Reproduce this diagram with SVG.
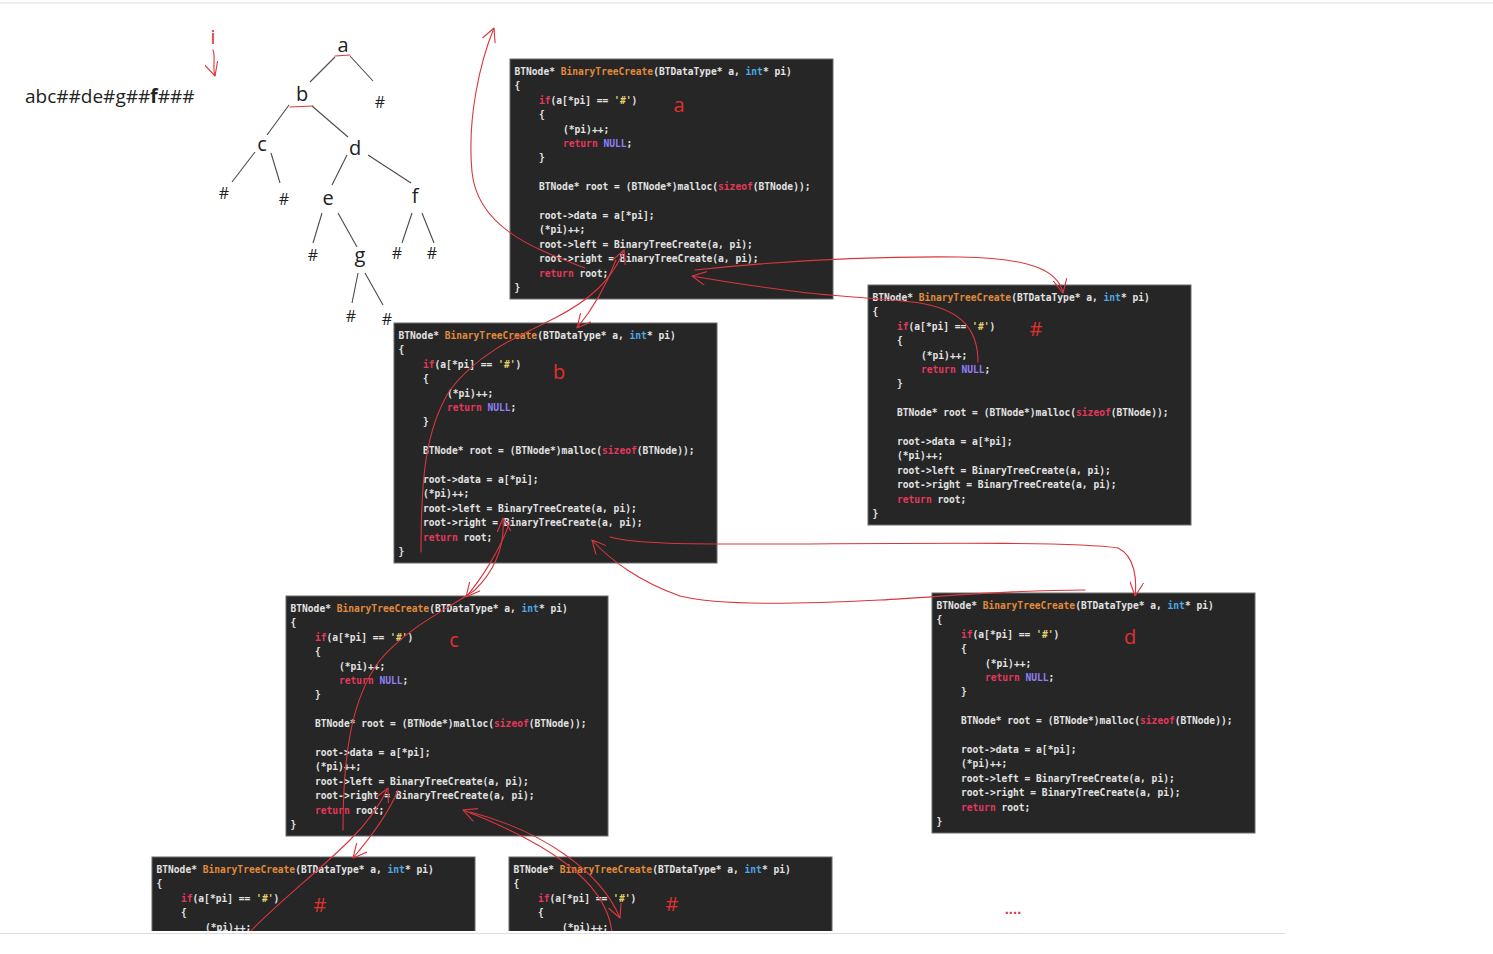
<svg xmlns="http://www.w3.org/2000/svg" width="1493" height="954" viewBox="0 0 1493 954">
<style>
.code{font-family:"DejaVu Sans Mono","Liberation Mono",monospace;font-size:9.6px;font-weight:bold;fill:#e2e2e2}
.fn{fill:#e08a3c}.kw{fill:#e2385c}.ty{fill:#4fa6e0}.ch{fill:#e0cf6a}.nl{fill:#9180f5}
.blk{fill:#262626;stroke:#6a6a6a;stroke-width:1}
.lbl{font-family:"Open Sans","Liberation Sans",sans-serif;font-size:20px;fill:#e0302f;text-anchor:middle}
.red{fill:none;stroke:#d9363e;stroke-width:1.1;stroke-linecap:round}
.tl{stroke:#4a4a4a;stroke-width:1.1}
.tn{font-family:"Open Sans","Liberation Sans",sans-serif;font-size:20px;fill:#222;text-anchor:middle}
.th{font-family:"Open Sans","Liberation Sans",sans-serif;font-size:16px;fill:#222;text-anchor:middle}
</style>
<defs>
<marker id="ah" viewBox="0 0 10 10" refX="10" refY="5" markerWidth="14" markerHeight="14" markerUnits="userSpaceOnUse" orient="auto">
<path d="M0,0 L10,5 L0,10" fill="none" stroke="#d9363e" stroke-width="0.8"/>
</marker>
<clipPath id="cut"><rect x="0" y="0" width="1493" height="931"/></clipPath>
</defs>
<rect x="0" y="0" width="1493" height="954" fill="#ffffff"/>
<line x1="0" y1="3" x2="1493" y2="3" stroke="#dcdcdc" stroke-width="1"/>
<line x1="0" y1="933.5" x2="1285" y2="933.5" stroke="#dcdcdc" stroke-width="1"/>

<g id="sequence">
<text x="25" y="103" font-family="Open Sans, Liberation Sans, sans-serif" font-size="19" fill="#222">abc##de#g##<tspan font-weight="bold">f</tspan>###</text>
<text x="213" y="44" class="lbl" font-size="18">i</text>
<path class="red" d="M213,50 C216,58 212,66 215,76" marker-end="url(#ah)"/>
</g>

<g id="tree">
<line class="tl" x1="335" y1="57" x2="310" y2="82"/>
<line class="tl" x1="350" y1="56" x2="373" y2="81"/>
<line class="tl" x1="289" y1="105" x2="267" y2="135"/>
<line class="tl" x1="312" y1="106" x2="348" y2="137"/>
<line class="tl" x1="255" y1="152" x2="232" y2="182"/>
<line class="tl" x1="271" y1="153" x2="280" y2="183"/>
<line class="tl" x1="347" y1="155" x2="332" y2="185"/>
<line class="tl" x1="368" y1="155" x2="411" y2="183"/>
<line class="tl" x1="322" y1="213" x2="313" y2="243"/>
<line class="tl" x1="338" y1="213" x2="357" y2="247"/>
<line class="tl" x1="412" y1="213" x2="402" y2="243"/>
<line class="tl" x1="422" y1="213" x2="434" y2="243"/>
<line class="tl" x1="358" y1="273" x2="352" y2="303"/>
<line class="tl" x1="365" y1="273" x2="383" y2="305"/>
<path class="red" d="M335,56 L350,55"/>
<path class="red" d="M290,107 L313,106"/>
<text class="tn" x="343" y="52">a</text>
<text class="tn" x="302" y="101">b</text>
<text class="th" x="380" y="108">#</text>
<text class="tn" x="262" y="151">c</text>
<text class="tn" x="355" y="155">d</text>
<text class="th" x="224" y="199">#</text>
<text class="th" x="284" y="205">#</text>
<text class="tn" x="328" y="205">e</text>
<text class="tn" x="415" y="203">f</text>
<text class="th" x="313" y="261">#</text>
<text class="tn" x="360" y="262">g</text>
<text class="th" x="397" y="259">#</text>
<text class="th" x="432" y="259">#</text>
<text class="th" x="351" y="322">#</text>
<text class="th" x="387" y="325">#</text>
</g>

<g id="block-a">
<rect class="blk" x="510" y="59" width="323" height="240"/>
<text class="code" x="514.5" y="75">BTNode* <tspan class="fn">BinaryTreeCreate</tspan>(BTDataType* a, <tspan class="ty">int</tspan>* pi)</text>
<text class="code" x="514.5" y="89.4">{</text>
<text class="code" x="539" y="103.8"><tspan class="kw">if</tspan>(a[*pi] == <tspan class="ch">'#'</tspan>)</text>
<text class="code" x="539" y="118.2">{</text>
<text class="code" x="563" y="132.6">(*pi)++;</text>
<text class="code" x="563" y="147"><tspan class="kw">return</tspan> <tspan class="nl">NULL</tspan>;</text>
<text class="code" x="539" y="161.4">}</text>
<text class="code" x="539" y="190.2">BTNode* root = (BTNode*)malloc(<tspan class="kw">sizeof</tspan>(BTNode));</text>
<text class="code" x="539" y="219">root-&gt;data = a[*pi];</text>
<text class="code" x="539" y="233.4">(*pi)++;</text>
<text class="code" x="539" y="247.8">root-&gt;left = BinaryTreeCreate(a, pi);</text>
<text class="code" x="539" y="262.2">root-&gt;right = BinaryTreeCreate(a, pi);</text>
<text class="code" x="539" y="276.6"><tspan class="kw">return</tspan> root;</text>
<text class="code" x="514.5" y="291">}</text>
<text class="lbl" x="679" y="112">a</text>
</g>

<g id="block-hash1">
<rect class="blk" x="868" y="285" width="323" height="240"/>
<text class="code" x="872.5" y="301">BTNode* <tspan class="fn">BinaryTreeCreate</tspan>(BTDataType* a, <tspan class="ty">int</tspan>* pi)</text>
<text class="code" x="872.5" y="315.4">{</text>
<text class="code" x="897" y="329.8"><tspan class="kw">if</tspan>(a[*pi] == <tspan class="ch">'#'</tspan>)</text>
<text class="code" x="897" y="344.2">{</text>
<text class="code" x="921" y="358.6">(*pi)++;</text>
<text class="code" x="921" y="373"><tspan class="kw">return</tspan> <tspan class="nl">NULL</tspan>;</text>
<text class="code" x="897" y="387.4">}</text>
<text class="code" x="897" y="416.2">BTNode* root = (BTNode*)malloc(<tspan class="kw">sizeof</tspan>(BTNode));</text>
<text class="code" x="897" y="445">root-&gt;data = a[*pi];</text>
<text class="code" x="897" y="459.4">(*pi)++;</text>
<text class="code" x="897" y="473.8">root-&gt;left = BinaryTreeCreate(a, pi);</text>
<text class="code" x="897" y="488.2">root-&gt;right = BinaryTreeCreate(a, pi);</text>
<text class="code" x="897" y="502.6"><tspan class="kw">return</tspan> root;</text>
<text class="code" x="872.5" y="517">}</text>
<text class="lbl" x="1036" y="336">#</text>
</g>

<g id="block-b">
<rect class="blk" x="394" y="323" width="323" height="240"/>
<text class="code" x="398.5" y="339">BTNode* <tspan class="fn">BinaryTreeCreate</tspan>(BTDataType* a, <tspan class="ty">int</tspan>* pi)</text>
<text class="code" x="398.5" y="353.4">{</text>
<text class="code" x="423" y="367.8"><tspan class="kw">if</tspan>(a[*pi] == <tspan class="ch">'#'</tspan>)</text>
<text class="code" x="423" y="382.2">{</text>
<text class="code" x="447" y="396.6">(*pi)++;</text>
<text class="code" x="447" y="411"><tspan class="kw">return</tspan> <tspan class="nl">NULL</tspan>;</text>
<text class="code" x="423" y="425.4">}</text>
<text class="code" x="423" y="454.2">BTNode* root = (BTNode*)malloc(<tspan class="kw">sizeof</tspan>(BTNode));</text>
<text class="code" x="423" y="483">root-&gt;data = a[*pi];</text>
<text class="code" x="423" y="497.4">(*pi)++;</text>
<text class="code" x="423" y="511.8">root-&gt;left = BinaryTreeCreate(a, pi);</text>
<text class="code" x="423" y="526.2">root-&gt;right = BinaryTreeCreate(a, pi);</text>
<text class="code" x="423" y="540.6"><tspan class="kw">return</tspan> root;</text>
<text class="code" x="398.5" y="555">}</text>
<text class="lbl" x="559" y="379">b</text>
</g>

<g id="block-c">
<rect class="blk" x="286" y="596" width="322" height="240"/>
<text class="code" x="290.5" y="612">BTNode* <tspan class="fn">BinaryTreeCreate</tspan>(BTDataType* a, <tspan class="ty">int</tspan>* pi)</text>
<text class="code" x="290.5" y="626.4">{</text>
<text class="code" x="315" y="640.8"><tspan class="kw">if</tspan>(a[*pi] == <tspan class="ch">'#'</tspan>)</text>
<text class="code" x="315" y="655.2">{</text>
<text class="code" x="339" y="669.6">(*pi)++;</text>
<text class="code" x="339" y="684"><tspan class="kw">return</tspan> <tspan class="nl">NULL</tspan>;</text>
<text class="code" x="315" y="698.4">}</text>
<text class="code" x="315" y="727.2">BTNode* root = (BTNode*)malloc(<tspan class="kw">sizeof</tspan>(BTNode));</text>
<text class="code" x="315" y="756">root-&gt;data = a[*pi];</text>
<text class="code" x="315" y="770.4">(*pi)++;</text>
<text class="code" x="315" y="784.8">root-&gt;left = BinaryTreeCreate(a, pi);</text>
<text class="code" x="315" y="799.2">root-&gt;right = BinaryTreeCreate(a, pi);</text>
<text class="code" x="315" y="813.6"><tspan class="kw">return</tspan> root;</text>
<text class="code" x="290.5" y="828">}</text>
<text class="lbl" x="454" y="647">c</text>
</g>

<g id="block-d">
<rect class="blk" x="932" y="593" width="323" height="240"/>
<text class="code" x="936.5" y="609">BTNode* <tspan class="fn">BinaryTreeCreate</tspan>(BTDataType* a, <tspan class="ty">int</tspan>* pi)</text>
<text class="code" x="936.5" y="623.4">{</text>
<text class="code" x="961" y="637.8"><tspan class="kw">if</tspan>(a[*pi] == <tspan class="ch">'#'</tspan>)</text>
<text class="code" x="961" y="652.2">{</text>
<text class="code" x="985" y="666.6">(*pi)++;</text>
<text class="code" x="985" y="681"><tspan class="kw">return</tspan> <tspan class="nl">NULL</tspan>;</text>
<text class="code" x="961" y="695.4">}</text>
<text class="code" x="961" y="724.2">BTNode* root = (BTNode*)malloc(<tspan class="kw">sizeof</tspan>(BTNode));</text>
<text class="code" x="961" y="753">root-&gt;data = a[*pi];</text>
<text class="code" x="961" y="767.4">(*pi)++;</text>
<text class="code" x="961" y="781.8">root-&gt;left = BinaryTreeCreate(a, pi);</text>
<text class="code" x="961" y="796.2">root-&gt;right = BinaryTreeCreate(a, pi);</text>
<text class="code" x="961" y="810.6"><tspan class="kw">return</tspan> root;</text>
<text class="code" x="936.5" y="825">}</text>
<text class="lbl" x="1130" y="644">d</text>
</g>

<g id="block-hash2" clip-path="url(#cut)">
<rect class="blk" x="152" y="857" width="323" height="90"/>
<text class="code" x="156.5" y="873">BTNode* <tspan class="fn">BinaryTreeCreate</tspan>(BTDataType* a, <tspan class="ty">int</tspan>* pi)</text>
<text class="code" x="156.5" y="887.4">{</text>
<text class="code" x="181" y="901.8"><tspan class="kw">if</tspan>(a[*pi] == <tspan class="ch">'#'</tspan>)</text>
<text class="code" x="181" y="916.2">{</text>
<text class="code" x="205" y="930.6">(*pi)++;</text>
<text class="lbl" x="320" y="912">#</text>
</g>

<g id="block-hash3" clip-path="url(#cut)">
<rect class="blk" x="509" y="857" width="323" height="90"/>
<text class="code" x="513.5" y="873">BTNode* <tspan class="fn">BinaryTreeCreate</tspan>(BTDataType* a, <tspan class="ty">int</tspan>* pi)</text>
<text class="code" x="513.5" y="887.4">{</text>
<text class="code" x="538" y="901.8"><tspan class="kw">if</tspan>(a[*pi] == <tspan class="ch">'#'</tspan>)</text>
<text class="code" x="538" y="916.2">{</text>
<text class="code" x="562" y="930.6">(*pi)++;</text>
<text class="lbl" x="672" y="911">#</text>
</g>

<g id="ellipsis">
<text x="1013" y="914" font-family="Liberation Sans, sans-serif" font-size="15" font-weight="bold" fill="#d04055" text-anchor="middle">....</text>
</g>

<g id="connectors" clip-path="url(#cut)">
<path class="red" d="M585,268 C545,252 478,232 472,172 C467,118 480,62 494,28" marker-end="url(#ah)"/>
<path class="red" d="M616,260 C606,286 592,310 577,328" marker-end="url(#ah)"/>
<path class="red" d="M421,552 C421,480 425,430 450,390 C480,350 528,332 555,318 C590,300 612,280 624,250" marker-end="url(#ah)"/>
<path class="red" d="M695,270 C760,263 850,256 960,257 C1030,258 1058,270 1063,293" marker-end="url(#ah)"/>
<path class="red" d="M978,362 C978,330 962,310 920,303 C880,298 840,297 800,292 C760,287 720,281 692,276" marker-end="url(#ah)"/>
<path class="red" d="M510,522 C500,550 482,578 466,597" marker-end="url(#ah)"/>
<path class="red" d="M343,830 C343,760 350,700 380,660 C410,625 450,608 475,590 C495,570 505,545 503,518" marker-end="url(#ah)"/>
<path class="red" d="M610,537 C640,545 700,544 800,544 C950,543 1080,542 1118,548 C1135,556 1137,580 1135,596" marker-end="url(#ah)"/>
<path class="red" d="M1085,590 C1000,590 940,597 880,600 C800,604 720,606 680,596 C640,582 610,560 592,540" marker-end="url(#ah)"/>
<path class="red" d="M398,790 C388,815 370,838 353,858" marker-end="url(#ah)"/>
<path class="red" d="M250,932 C275,905 320,870 350,840 C368,822 380,805 388,788" marker-end="url(#ah)"/>
<path class="red" d="M470,812 C540,830 600,870 620,918" marker-end="url(#ah)"/>
<path class="red" d="M612,932 C606,880 545,842 463,810" marker-end="url(#ah)"/>
</g>
</svg>
